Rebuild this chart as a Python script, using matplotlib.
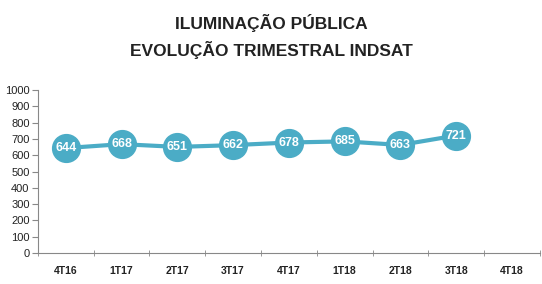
import matplotlib
matplotlib.use('Agg')
from matplotlib import pyplot as plt

# dados
trimestres = ['4T16', '1T17', '2T17', '3T17', '4T17', '1T18', '2T18', '3T18', '4T18']
valores = [644, 668, 651, 662, 678, 685, 663, 721]
yticks = list(range(0, 1001, 100))

cor = '#4BACC6'

plt.rcParams['font.family'] = ['Liberation Sans', 'DejaVu Sans']

fig = plt.figure(figsize=(5.42, 2.84), dpi=100)
ax = fig.add_axes([0.070, 0.109, 0.926, 0.574])

x = list(range(len(valores)))
ax.plot(x, valores, color=cor, lw=3, marker='o', markersize=20,
        markerfacecolor=cor, markeredgecolor=cor, zorder=3, solid_capstyle='round')
for xi, v in zip(x, valores):
    ax.text(xi, v, str(v), ha='center', va='center', color='white',
            fontsize=9, fontweight='bold', zorder=4)

ax.set_xlim(-0.5, len(trimestres) - 0.5)
ax.set_ylim(0, 1000)
ax.set_yticks(yticks)
ax.set_yticklabels([str(t) for t in yticks], fontsize=8, color='#222222')
ax.set_xticks(range(len(trimestres)))
ax.set_xticklabels(trimestres, fontsize=7.5, fontweight='bold', color='#222222')
ax.set_xticks([i + 0.5 for i in range(-1, len(trimestres))], minor=True)
ax.tick_params(axis='x', which='major', length=0, pad=9)
ax.tick_params(axis='x', which='minor', length=4, direction='inout', color='#888888')
ax.tick_params(axis='y', length=4, color='#888888', pad=2)

for s in ['top', 'right']:
    ax.spines[s].set_visible(False)
ax.spines['left'].set_color('#888888')
ax.spines['bottom'].set_color('#888888')

fig.text(0.5, 0.92, 'ILUMINAÇÃO PÚBLICA', ha='center', va='center',
         fontsize=12.5, fontweight='bold', color='#222222')
fig.text(0.5, 0.823, 'EVOLUÇÃO TRIMESTRAL INDSAT', ha='center', va='center',
         fontsize=12.5, fontweight='bold', color='#222222')

fig.savefig('out.png', dpi=100)
